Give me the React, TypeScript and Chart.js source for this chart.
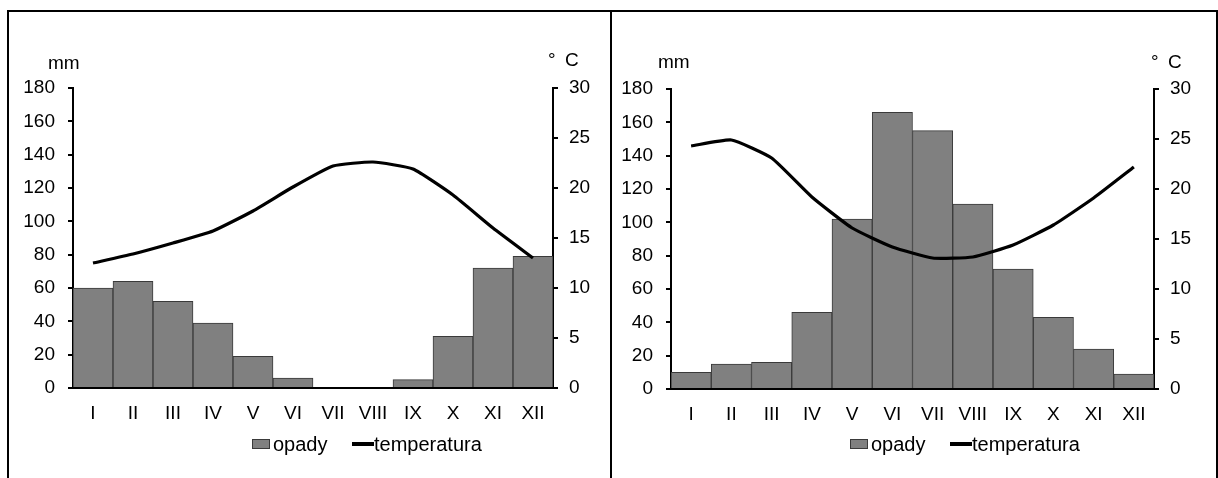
import React, { useEffect, useRef } from "react";
import { Chart, registerables } from "chart.js";

Chart.register(...registerables);

const months = ["I", "II", "III", "IV", "V", "VI", "VII", "VIII", "IX", "X", "XI", "XII"];

const precipLeft = [60, 64, 52, 39, 19, 6, 0.6, 0.6, 5, 31, 72, 79];
const tempLeft = [12.5, 13.4, 14.5, 15.7, 17.7, 20.1, 22.2, 22.6, 21.9, 19.3, 16.0, 13.0];

const precipRight = [10, 15, 16, 46, 102, 166, 155, 111, 72, 43, 24, 9];
const tempRight = [24.3, 24.9, 23.1, 19.2, 16.1, 14.2, 13.1, 13.2, 14.4, 16.4, 19.1, 22.2];

const precipMax = 180;
const precipStep = 20;
const tempMax = 30;
const tempStep = 5;

const precipLabel = "opady";
const tempLabel = "temperatura";
const precipUnit = "mm";
const tempUnit = "° C";

const FONT = "'Liberation Sans', Arial, Helvetica, sans-serif";
const BAR_COLOR = "#808080";
const BAR_BORDER = "#3a3a3a";

type Geo = {
  left: number;
  width: number;
  yLeftW: number;
  yRightW: number;
  padTop: number;
  padBottom: number;
  xH: number;
};

function ClimateChart({ precip, temp, geo }: { precip: number[]; temp: number[]; geo: Geo }) {
  const ref = useRef<HTMLCanvasElement | null>(null);
  useEffect(() => {
    if (!ref.current) return;
    const chart = new Chart(ref.current, {
      type: "bar",
      data: {
        labels: months,
        datasets: [
          {
            type: "line",
            label: tempLabel,
            data: temp,
            yAxisID: "yT",
            borderColor: "#000",
            borderWidth: 3.2,
            pointRadius: 0,
            tension: 0.15,
            order: 0,
          } as any,
          {
            type: "bar",
            label: precipLabel,
            data: precip,
            yAxisID: "yP",
            backgroundColor: BAR_COLOR,
            borderColor: BAR_BORDER,
            borderWidth: 1,
            barPercentage: 1,
            categoryPercentage: 1,
            order: 1,
          } as any,
        ],
      },
      options: {
        responsive: false,
        animation: false,
        devicePixelRatio: 1,
        layout: { padding: { top: geo.padTop, bottom: geo.padBottom, left: 0, right: 0 } },
        plugins: { legend: { display: false }, tooltip: { enabled: false } },
        scales: {
          x: {
            grid: { display: false },
            border: { display: true, color: "#000", width: 2 },
            ticks: { color: "#000", font: { family: FONT, size: 19 }, padding: 6, maxRotation: 0, autoSkip: false },
            afterFit: (s: any) => {
              s.height = geo.xH;
            },
          },
          yP: {
            position: "left",
            min: 0,
            max: precipMax,
            ticks: { stepSize: precipStep, color: "#000", font: { family: FONT, size: 19 }, padding: 13 },
            grid: { drawOnChartArea: false, color: "#000", lineWidth: 2, tickLength: 5 },
            border: { display: true, color: "#000", width: 2 },
            afterFit: (s: any) => {
              s.width = geo.yLeftW;
            },
          },
          yT: {
            position: "right",
            min: 0,
            max: tempMax,
            ticks: { stepSize: tempStep, color: "#000", font: { family: FONT, size: 19 }, padding: 11 },
            grid: { drawOnChartArea: false, color: "#000", lineWidth: 2, tickLength: 5 },
            border: { display: true, color: "#000", width: 2 },
            afterFit: (s: any) => {
              s.width = geo.yRightW;
            },
          },
        },
      },
    });
    return () => chart.destroy();
  }, [precip, temp, geo]);
  return (
    <canvas
      ref={ref}
      width={geo.width}
      height={466}
      style={{ position: "absolute", left: geo.left, top: 12, width: geo.width, height: 466 }}
    />
  );
}

const txt: React.CSSProperties = {
  position: "absolute",
  fontFamily: FONT,
  fontSize: 19,
  lineHeight: "19px",
  color: "#000",
  whiteSpace: "pre",
};

function Legend({ left }: { left: number }) {
  return (
    <>
      <div
        style={{
          position: "absolute",
          left: left,
          top: 439,
          width: 18,
          height: 10,
          background: BAR_COLOR,
          border: "1px solid " + BAR_BORDER,
          boxSizing: "border-box",
        }}
      />
      <span style={{ ...txt, fontSize: 20, lineHeight: "20px", left: left + 21, top: 434 }}>{precipLabel}</span>
      <div style={{ position: "absolute", left: left + 100, top: 442, width: 22, height: 4, background: "#000" }} />
      <span style={{ ...txt, fontSize: 20, lineHeight: "20px", left: left + 122, top: 434 }}>{tempLabel}</span>
    </>
  );
}

const geoLeft: Geo = { left: 9, width: 600, yLeftW: 64, yRightW: 56, padTop: 76, padBottom: 50, xH: 40 };
const geoRight: Geo = { left: 612, width: 604, yLeftW: 59, yRightW: 62, padTop: 77, padBottom: 49, xH: 40 };

export default function App() {
  return (
    <div style={{ position: "absolute", left: 0, top: 0, width: 1218, height: 478, background: "#fff", overflow: "hidden" }}>
      <div style={{ position: "absolute", left: 7, top: 9.5, width: 1211, height: 2.5, background: "#000" }} />
      <div style={{ position: "absolute", left: 7, top: 9.5, width: 2.3, height: 470, background: "#000" }} />
      <div style={{ position: "absolute", left: 609.5, top: 9.5, width: 2.5, height: 470, background: "#000" }} />
      <div style={{ position: "absolute", left: 1216, top: 9.5, width: 2.5, height: 470, background: "#000" }} />

      <ClimateChart precip={precipLeft} temp={tempLeft} geo={geoLeft} />
      <ClimateChart precip={precipRight} temp={tempRight} geo={geoRight} />

      <span style={{ ...txt, left: 48, top: 53 }}>{precipUnit}</span>
      <span style={{ ...txt, left: 548, top: 50, wordSpacing: 4 }}>{tempUnit}</span>
      <span style={{ ...txt, left: 658, top: 52 }}>{precipUnit}</span>
      <span style={{ ...txt, left: 1151, top: 52, wordSpacing: 4 }}>{tempUnit}</span>

      <Legend left={252} />
      <Legend left={850} />
    </div>
  );
}
